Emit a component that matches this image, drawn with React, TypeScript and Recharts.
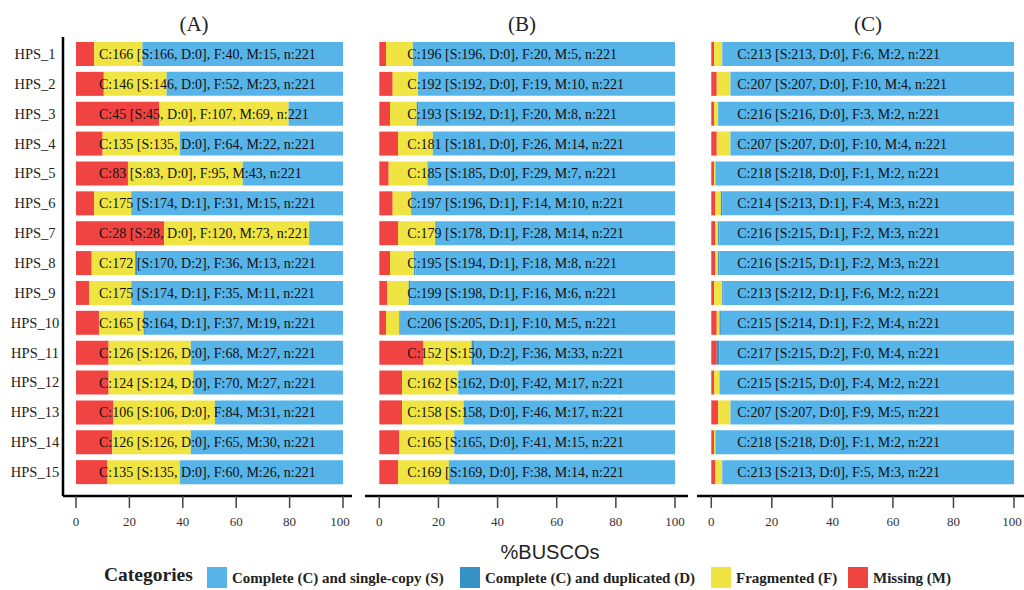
import { Bar, BarChart, LabelList, XAxis, YAxis } from 'recharts'

const categories = [
  'HPS_1', 'HPS_2', 'HPS_3', 'HPS_4', 'HPS_5', 'HPS_6', 'HPS_7', 'HPS_8',
  'HPS_9', 'HPS_10', 'HPS_11', 'HPS_12', 'HPS_13', 'HPS_14', 'HPS_15',
]
const totalBuscos = 221
const xTicks = [0, 20, 40, 60, 80, 100]

// panel A
const aSingle = [166, 146, 45, 135, 83, 174, 28, 170, 174, 164, 126, 124, 106, 126, 135]
const aDuplicated = [0, 0, 0, 0, 0, 1, 0, 2, 1, 1, 0, 0, 0, 0, 0]
const aFragmented = [40, 52, 107, 64, 95, 31, 120, 36, 35, 37, 68, 70, 84, 65, 60]
const aMissing = [15, 23, 69, 22, 43, 15, 73, 13, 11, 19, 27, 27, 31, 30, 26]

// panel B
const bSingle = [196, 192, 192, 181, 185, 196, 178, 194, 198, 205, 150, 162, 158, 165, 169]
const bDuplicated = [0, 0, 1, 0, 0, 1, 1, 1, 1, 1, 2, 0, 0, 0, 0]
const bFragmented = [20, 19, 20, 26, 29, 14, 28, 18, 16, 10, 36, 42, 46, 41, 38]
const bMissing = [5, 10, 8, 14, 7, 10, 14, 8, 6, 5, 33, 17, 17, 15, 14]

// panel C
const cSingle = [213, 207, 216, 207, 218, 213, 215, 215, 212, 214, 215, 215, 207, 218, 213]
const cDuplicated = [0, 0, 0, 0, 0, 1, 1, 1, 1, 1, 2, 0, 0, 0, 0]
const cFragmented = [6, 10, 3, 10, 1, 4, 2, 2, 6, 2, 0, 4, 9, 1, 5]
const cMissing = [2, 4, 2, 4, 2, 3, 3, 3, 2, 4, 4, 2, 5, 2, 3]

const COLORS = {
  single: '#56B4E9',
  duplicated: '#3492C7',
  fragmented: '#F0E442',
  missing: '#F04442',
}

const legendItems = [
  { label: 'Complete (C) and single-copy (S)', color: COLORS.single, x: 207 },
  { label: 'Complete (C) and duplicated (D)', color: COLORS.duplicated, x: 460 },
  { label: 'Fragmented (F)', color: COLORS.fragmented, x: 711 },
  { label: 'Missing (M)', color: COLORS.missing, x: 848 },
]

const SERIF = '"Liberation Serif", "DejaVu Serif", serif'
const SANS = '"Liberation Sans", Arial, sans-serif'

const pct = (n: number) => (n / totalBuscos) * 100

function buildRows(s: number[], d: number[], f: number[], m: number[]) {
  return categories.map((name, i) => ({
    name,
    single: pct(s[i]),
    duplicated: pct(d[i]),
    fragmented: pct(f[i]),
    missing: pct(m[i]),
    label: `C:${s[i] + d[i]} [S:${s[i]}, D:${d[i]}], F:${f[i]}, M:${m[i]}, n:${totalBuscos}`,
  }))
}

type PanelProps = {
  rows: ReturnType<typeof buildRows>
  left: number
  width: number
  domain: [number, number]
  labelOffset: number
  showY?: boolean
}

function XTick({ x, y, payload }: any) {
  return (
    <text x={x} y={y + 16} textAnchor="middle" fontFamily={SERIF} fontSize={13} fill="#333">
      {payload.value}
    </text>
  )
}

function YTick({ y, payload }: any) {
  return (
    <text x={35} y={y + 5} textAnchor="middle" fontFamily={SERIF} fontSize={14.5} fill="#222">
      {payload.value}
    </text>
  )
}

function Panel({ rows, left, width, domain, labelOffset, showY }: PanelProps) {
  const yWidth = showY ? 63 : 0
  return (
    <div style={{ position: 'absolute', left, top: 0 }}>
      <BarChart
        width={width}
        height={540}
        data={rows}
        layout="vertical"
        margin={{ top: 37, right: 0, bottom: 0, left: 0 }}
      >
        <XAxis
          type="number"
          domain={domain}
          ticks={xTicks}
          allowDataOverflow
          height={44}
          axisLine={{ stroke: '#000', strokeWidth: 2.5 }}
          tickLine={{ stroke: '#444', strokeWidth: 1.5 }}
          tickSize={12}
          tick={<XTick />}
        />
        <YAxis
          type="category"
          dataKey="name"
          width={yWidth}
          hide={!showY}
          padding={{ top: 2, bottom: 9 }}
          axisLine={{ stroke: '#000', strokeWidth: 2.5 }}
          tickLine={false}
          tick={<YTick />}
        />
        <Bar dataKey="missing" stackId="b" fill={COLORS.missing} barSize={24} isAnimationActive={false}>
          <LabelList
            dataKey="label"
            content={(p: any) => (
              <text
                x={Number(p.x) + labelOffset}
                y={Number(p.y) + Number(p.height) / 2 + 5}
                fontFamily={SERIF}
                fontSize={14}
                fill="#111"
              >
                {p.value}
              </text>
            )}
          />
        </Bar>
        <Bar dataKey="fragmented" stackId="b" fill={COLORS.fragmented} barSize={24} isAnimationActive={false} />
        <Bar dataKey="duplicated" stackId="b" fill={COLORS.duplicated} barSize={24} isAnimationActive={false} />
        <Bar dataKey="single" stackId="b" fill={COLORS.single} barSize={24} isAnimationActive={false} />
      </BarChart>
    </div>
  )
}

export default function App() {
  const rowsA = buildRows(aSingle, aDuplicated, aFragmented, aMissing)
  const rowsB = buildRows(bSingle, bDuplicated, bFragmented, bMissing)
  const rowsC = buildRows(cSingle, cDuplicated, cFragmented, cMissing)

  return (
    <div style={{ position: 'absolute', left: 0, top: 0, width: 1024, height: 590, background: '#fff', overflow: 'hidden' }}>
      <Panel rows={rowsA} left={0} width={352} domain={[-4.87, 103.37]} labelOffset={23} showY />
      <Panel rows={rowsB} left={365} width={323} domain={[-4.84, 104.4]} labelOffset={28} />
      <Panel rows={rowsC} left={697} width={327} domain={[-4.72, 103.3]} labelOffset={26} />

      <svg width={1024} height={590} style={{ position: 'absolute', left: 0, top: 0, pointerEvents: 'none' }}>
        <g fontFamily={SERIF} fontSize={21} fill="#222" textAnchor="middle">
          <text x={194} y={31}>(A)</text>
          <text x={522} y={31}>(B)</text>
          <text x={868} y={31}>(C)</text>
        </g>
        <text x={550} y={559} textAnchor="middle" fontFamily={SANS} fontSize={20} fill="#222">
          %BUSCOs
        </text>
        <text x={104} y={581} fontFamily={SERIF} fontSize={19.5} fontWeight="bold" fill="#222">
          Categories
        </text>
        {legendItems.map((item) => (
          <g key={item.label}>
            <rect x={item.x} y={567} width={20} height={21} fill={item.color} />
            <text x={item.x + 25} y={583} fontFamily={SERIF} fontSize={15} fontWeight="bold" fill="#222">
              {item.label}
            </text>
          </g>
        ))}
      </svg>
    </div>
  )
}
